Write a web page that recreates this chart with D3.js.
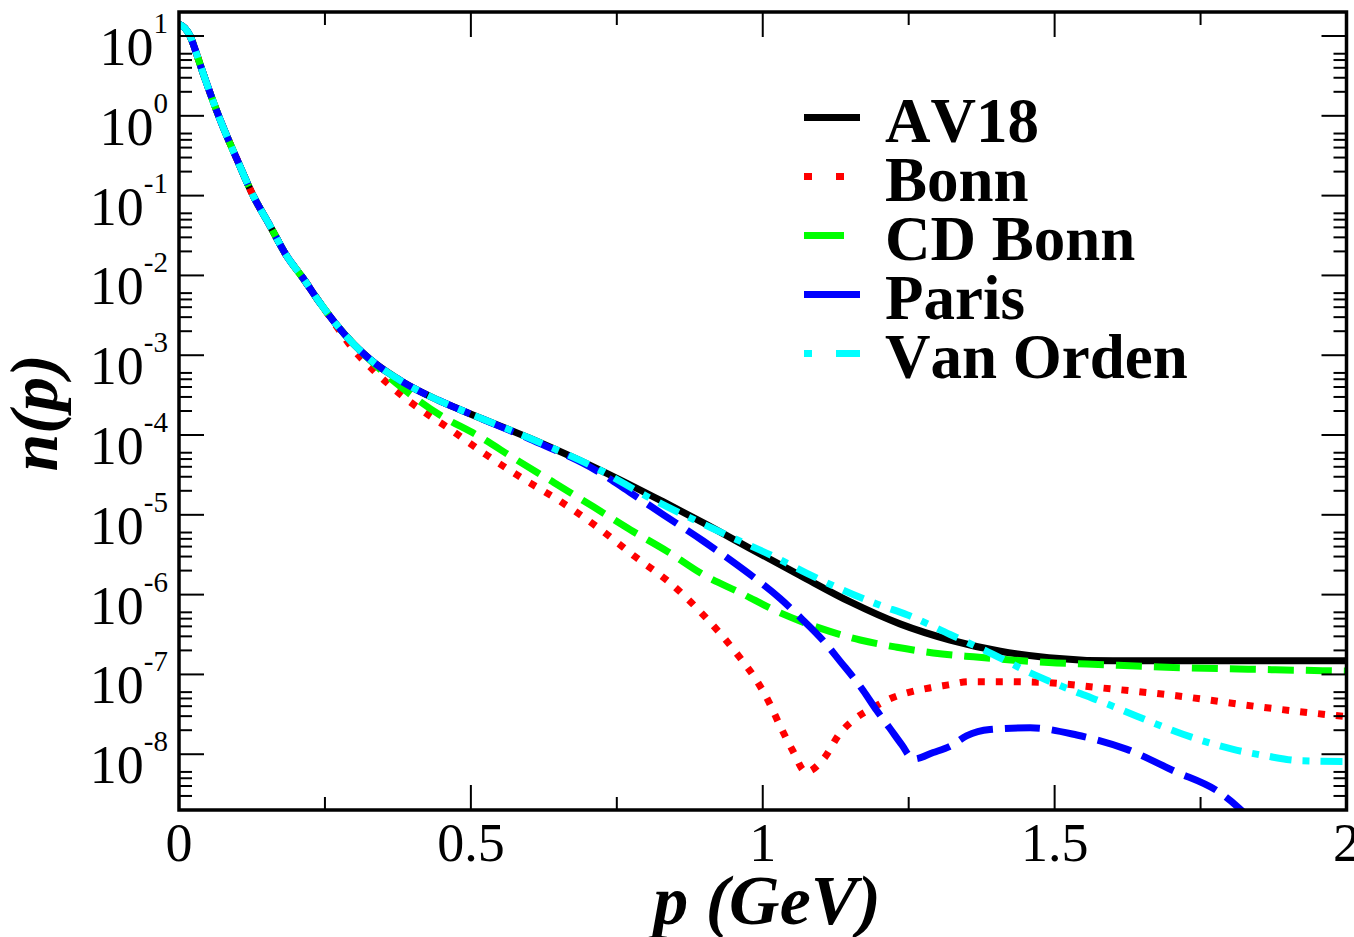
<!DOCTYPE html>
<html>
<head>
<meta charset="utf-8">
<script src="https://cdn.jsdelivr.net/npm/d3@7"></script>
<style>
  html, body { margin: 0; padding: 0; background: #fff; }
  svg { display: block; }
  text { font-family: "Liberation Serif", "Times New Roman", serif; fill: #000; font-kerning: none; }
</style>
</head>
<body>
<svg id="chart" width="1354" height="937"></svg>
<script>
// ---------------- data ----------------
const seriesNames = ["AV18", "Bonn", "CD Bonn", "Paris", "Van Orden"];

const pAV18 = [0, 0.010, 0.019, 0.030, 0.042, 0.070, 0.099, 0.127, 0.156, 0.184, 0.213, 0.242, 0.270, 0.299, 0.327, 0.384, 0.441, 0.487, 0.601, 0.716, 0.830, 0.900, 0.978, 1.064, 1.150, 1.235, 1.321, 1.407, 1.490, 1.600, 1.800, 2.000];
const nAV18 = [14.1, 12.6, 10.0, 6.0, 3.3, 0.91, 0.288, 0.100, 0.0417, 0.0178, 0.00912, 0.00447, 0.0024, 0.00138, 8.9e-4, 4.6e-4, 2.8e-4, 2.0e-4, 9.1e-5, 3.8e-5, 1.45e-5, 7.8e-6, 3.8e-6, 1.74e-6, 8.1e-7, 4.3e-7, 2.7e-7, 1.95e-7, 1.62e-7, 1.48e-7, 1.48e-7, 1.48e-7];

const pBonn = [0, 0.010, 0.019, 0.030, 0.042, 0.070, 0.099, 0.127, 0.156, 0.184, 0.213, 0.242, 0.270, 0.300, 0.333, 0.361, 0.393, 0.424, 0.459, 0.524, 0.587, 0.653, 0.718, 0.781, 0.844, 0.903, 0.933, 0.961, 0.989, 1.010, 1.030, 1.051, 1.074, 1.105, 1.132, 1.156, 1.188, 1.222, 1.252, 1.287, 1.318, 1.352, 1.418, 1.484, 1.578, 1.709, 1.841, 2.000];
const nBonn = [14.1, 12.6, 10.0, 6.0, 3.3, 0.91, 0.288, 0.100, 0.0417, 0.0178, 0.00912, 0.00447, 0.00229, 1.15e-3, 6.5e-4, 4.2e-4, 2.7e-4, 1.86e-4, 1.26e-4, 5.8e-5, 2.9e-5, 1.48e-5, 6.9e-6, 3.0e-6, 1.35e-6, 5.1e-7, 2.9e-7, 1.62e-7, 8.5e-8, 4.6e-8, 2.24e-8, 1.12e-8, 6.0e-9, 8.9e-9, 1.82e-8, 2.7e-8, 3.8e-8, 5.1e-8, 6.0e-8, 6.8e-8, 7.4e-8, 8.1e-8, 8.1e-8, 7.9e-8, 6.8e-8, 5.4e-8, 4.0e-8, 2.95e-8];

const pCDBonn = [0, 0.010, 0.019, 0.030, 0.042, 0.070, 0.099, 0.127, 0.156, 0.184, 0.213, 0.242, 0.270, 0.299, 0.327, 0.384, 0.447, 0.510, 0.578, 0.641, 0.710, 0.773, 0.836, 0.898, 0.962, 1.030, 1.098, 1.167, 1.230, 1.292, 1.361, 1.430, 1.490, 1.555, 1.692, 1.863, 2.000];
const nCDBonn = [14.1, 12.6, 10.0, 6.0, 3.3, 0.91, 0.288, 0.100, 0.0417, 0.0178, 0.00912, 0.00447, 0.0024, 1.38e-3, 8.7e-4, 3.8e-4, 1.78e-4, 1.0e-4, 4.9e-5, 2.57e-5, 1.26e-5, 6.5e-6, 3.5e-6, 1.78e-6, 1.05e-6, 5.9e-7, 3.8e-7, 2.7e-7, 2.19e-7, 1.86e-7, 1.66e-7, 1.51e-7, 1.41e-7, 1.35e-7, 1.23e-7, 1.15e-7, 1.10e-7];

const pParis = [0, 0.010, 0.019, 0.030, 0.042, 0.070, 0.099, 0.127, 0.156, 0.184, 0.213, 0.242, 0.270, 0.299, 0.327, 0.384, 0.441, 0.487, 0.601, 0.716, 0.773, 0.830, 0.898, 0.949, 0.984, 1.030, 1.064, 1.104, 1.132, 1.172, 1.195, 1.218, 1.238, 1.258, 1.292, 1.321, 1.349, 1.389, 1.458, 1.538, 1.624, 1.704, 1.783, 1.812, 1.850];
const nParis = [14.1, 12.6, 10.0, 6.0, 3.3, 0.91, 0.288, 0.100, 0.0417, 0.0178, 0.00912, 0.00447, 0.0024, 0.00138, 8.9e-4, 4.6e-4, 2.8e-4, 2.0e-4, 8.9e-5, 3.55e-5, 1.9e-5, 1.0e-5, 4.7e-6, 2.57e-6, 1.66e-6, 8.9e-7, 5.2e-7, 2.63e-7, 1.48e-7, 6.3e-8, 3.55e-8, 2.1e-8, 1.32e-8, 8.7e-9, 1.05e-8, 1.26e-8, 1.70e-8, 2.04e-8, 2.14e-8, 1.74e-8, 1.15e-8, 6.2e-9, 3.3e-9, 2.24e-9, 1.2e-9];

const pVanOrden = [0, 0.010, 0.019, 0.030, 0.042, 0.070, 0.099, 0.127, 0.156, 0.184, 0.213, 0.242, 0.270, 0.299, 0.327, 0.384, 0.441, 0.487, 0.601, 0.716, 0.807, 0.938, 1.024, 1.075, 1.200, 1.247, 1.321, 1.378, 1.464, 1.544, 1.589, 1.641, 1.720, 1.806, 1.863, 1.920, 2.000];
const nVanOrden = [14.1, 12.6, 10.0, 6.0, 3.3, 0.91, 0.288, 0.100, 0.0417, 0.0178, 0.00912, 0.00447, 0.0024, 0.00138, 8.9e-4, 4.6e-4, 2.8e-4, 2.0e-4, 9.1e-5, 3.8e-5, 1.62e-5, 5.6e-6, 2.88e-6, 1.86e-6, 7.4e-7, 5.6e-7, 3.16e-7, 2.04e-7, 1.0e-7, 5.75e-8, 4.3e-8, 3.0e-8, 1.78e-8, 1.15e-8, 9.5e-9, 8.3e-9, 8.1e-9];

const xTicks = [0, 0.5, 1, 1.5, 2];
const xTickLabels = ["0", "0.5", "1", "1.5", "2"];
const xMinorTicks = [0.25, 0.75, 1.25, 1.75];
const yTickExponents = [1, 0, -1, -2, -3, -4, -5, -6, -7, -8];
const yMinorMultipliers = [2, 3, 4, 5, 6];

// ---------------- layout ----------------
const svg = d3.select("#chart");
const L = 179, R = 1346.5, T = 12, B = 810;
const x = d3.scaleLinear().domain([0, 2]).range([L, R]);
const y = d3.scaleLog().domain([2e-9, 20]).range([B, T]);

const styles = [
  { color: "#000000", dash: null,          legDash: null,        legLen: 56 },
  { color: "#ff0000", dash: "7 11",        legDash: "8 24",      legLen: 40 },
  { color: "#00ff00", dash: "26 12",       legDash: null,        legLen: 40 },
  { color: "#0000ff", dash: "35 12",       legDash: null,        legLen: 56 },
  { color: "#00ffff", dash: "22 11 7 11",  legDash: "8 24 24",   legLen: 56 }
];
const series = [
  [pAV18, nAV18], [pBonn, nBonn], [pCDBonn, nCDBonn], [pParis, nParis], [pVanOrden, nVanOrden]
];

svg.append("defs").append("clipPath").attr("id", "plotclip")
  .append("rect").attr("x", L).attr("y", T).attr("width", R - L).attr("height", B - T);

const line = d3.line()
  .x(d => x(d[0]))
  .y(d => y(d[1]))
  .curve(d3.curveMonotoneX);

const curves = svg.append("g").attr("clip-path", "url(#plotclip)");
series.forEach((s, i) => {
  const pts = s[0].map((p, k) => [p, s[1][k]]);
  curves.append("path")
    .attr("d", line(pts))
    .attr("fill", "none")
    .attr("stroke", styles[i].color)
    .attr("stroke-width", 7)
    .attr("stroke-linejoin", "round")
    .attr("stroke-dasharray", styles[i].dash);
});

// ---------------- ticks ----------------
const tg = svg.append("g").attr("stroke", "#000").attr("stroke-width", 2);
const MAJ = 25, MIN = 13;
xTicks.forEach(v => {
  if (v === 0 || v === 2) return;
  const px = x(v);
  tg.append("line").attr("x1", px).attr("x2", px).attr("y1", B).attr("y2", B - MAJ);
  tg.append("line").attr("x1", px).attr("x2", px).attr("y1", T).attr("y2", T + MAJ);
});
xMinorTicks.forEach(v => {
  const px = x(v);
  tg.append("line").attr("x1", px).attr("x2", px).attr("y1", B).attr("y2", B - MIN);
  tg.append("line").attr("x1", px).attr("x2", px).attr("y1", T).attr("y2", T + MIN);
});
yTickExponents.forEach(e => {
  const py = y(Math.pow(10, e));
  tg.append("line").attr("x1", L).attr("x2", L + MAJ).attr("y1", py).attr("y2", py);
  tg.append("line").attr("x1", R).attr("x2", R - MAJ).attr("y1", py).attr("y2", py);
});
const yMinor = [];
for (let e = -9; e <= 1; e++) {
  yMinorMultipliers.forEach(m => {
    const v = m * Math.pow(10, e);
    if (v > 2.05e-9 && v < 19.9) yMinor.push(v);
  });
}
yMinor.forEach(v => {
  const py = y(v);
  tg.append("line").attr("x1", L).attr("x2", L + MIN).attr("y1", py).attr("y2", py);
  tg.append("line").attr("x1", R).attr("x2", R - MIN).attr("y1", py).attr("y2", py);
});

// frame
svg.append("rect").attr("x", L).attr("y", T).attr("width", R - L).attr("height", B - T)
  .attr("fill", "none").attr("stroke", "#000").attr("stroke-width", 3.5);

// ---------------- tick labels ----------------
xTicks.forEach((v, i) => {
  svg.append("text").attr("x", x(v)).attr("y", 861)
    .attr("text-anchor", "middle").attr("font-size", 54)
    .text(xTickLabels[i]);
});
yTickExponents.forEach(e => {
  const py = y(Math.pow(10, e));
  const t = svg.append("text").attr("x", 168).attr("y", py + 29)
    .attr("text-anchor", "end").attr("font-size", 54);
  t.append("tspan").text("10");
  t.append("tspan").attr("dy", -32).attr("font-size", 29).text(e < 0 ? "-" + (-e) : String(e));
});

// ---------------- axis titles ----------------
svg.append("text").attr("x", 767).attr("y", 924)
  .attr("text-anchor", "middle").attr("font-size", 70)
  .attr("font-weight", "bold").attr("font-style", "italic")
  .text("p (GeV)");
svg.append("text").attr("transform", "translate(57,413) rotate(-90)")
  .attr("text-anchor", "middle").attr("font-size", 68)
  .attr("font-weight", "bold").attr("font-style", "italic")
  .text("n(p)");

// ---------------- legend ----------------
const legX = 804, legTextX = 885, legY0 = 117.5, legDY = 59;
seriesNames.forEach((name, i) => {
  const ly = legY0 + i * legDY;
  svg.append("line")
    .attr("x1", legX).attr("x2", legX + styles[i].legLen)
    .attr("y1", ly).attr("y2", ly)
    .attr("stroke", styles[i].color).attr("stroke-width", 7)
    .attr("stroke-dasharray", styles[i].legDash);
  svg.append("text").attr("x", legTextX).attr("y", ly + 24)
    .attr("font-size", 63).attr("font-weight", "bold")
    .text(name);
});
</script>
</body>
</html>
